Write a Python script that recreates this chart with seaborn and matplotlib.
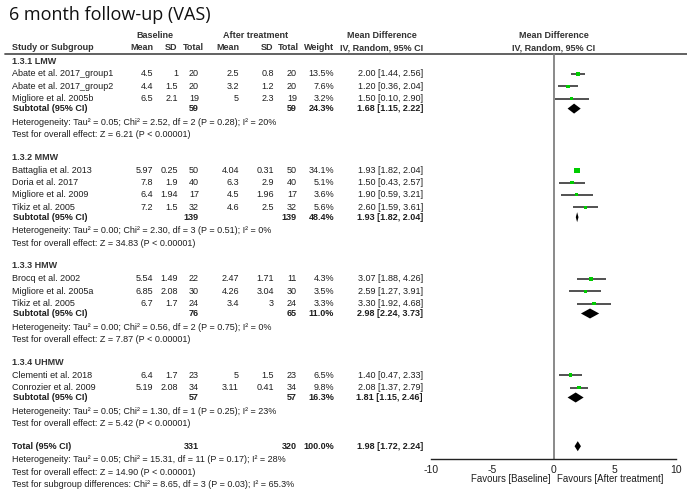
import pandas as pd
import matplotlib.pyplot as plt
import seaborn as sbn
from matplotlib import font_manager

# forest plot: 6 month follow-up (VAS), baseline vs after treatment

groups = ['1.3.1 LMW', '1.3.2 MMW', '1.3.3 HMW', '1.3.4 UHMW']
studies = ['Abate et al. 2017_group1', 'Abate et al. 2017_group2', 'Migliore et al. 2005b',
           'Battaglia et al. 2013', 'Doria et al. 2017', 'Migliore et al. 2009', 'Tikiz et al. 2005',
           'Brocq et al. 2002', 'Migliore et al. 2005a', 'Tikiz et al. 2005',
           'Clementi et al. 2018', 'Conrozier et al. 2009']
study_group = [0, 0, 0, 1, 1, 1, 1, 2, 2, 2, 3, 3]
base_mean = [4.5, 4.4, 6.5, 5.97, 7.8, 6.4, 7.2, 5.54, 6.85, 6.7, 6.4, 5.19]
base_sd = [1, 1.5, 2.1, 0.25, 1.9, 1.94, 1.5, 1.49, 2.08, 1.7, 1.7, 2.08]
base_n = [20, 20, 19, 50, 40, 17, 32, 22, 30, 24, 23, 34]
post_mean = [2.5, 3.2, 5, 4.04, 6.3, 4.5, 4.6, 2.47, 4.26, 3.4, 5, 3.11]
post_sd = [0.8, 1.2, 2.3, 0.31, 2.9, 1.96, 2.5, 1.71, 3.04, 3, 1.5, 0.41]
post_n = [20, 20, 19, 50, 40, 17, 32, 11, 30, 24, 23, 34]
weight = [13.5, 7.6, 3.2, 34.1, 5.1, 3.6, 5.6, 4.3, 3.5, 3.3, 6.5, 9.8]
md = [2.00, 1.20, 1.50, 1.93, 1.50, 1.90, 2.60, 3.07, 2.59, 3.30, 1.40, 2.08]
md_lo = [1.44, 0.36, 0.10, 1.82, 0.43, 0.59, 1.59, 1.88, 1.27, 1.92, 0.47, 1.37]
md_hi = [2.56, 2.04, 2.90, 2.04, 2.57, 3.21, 3.61, 4.26, 3.91, 4.68, 2.33, 2.79]

sub_base_n = [59, 139, 76, 57]
sub_post_n = [59, 139, 65, 57]
sub_weight = [24.3, 48.4, 11.0, 16.3]
sub_md = [1.68, 1.93, 2.98, 1.81]
sub_lo = [1.15, 1.82, 2.24, 1.15]
sub_hi = [2.22, 2.04, 3.73, 2.46]
sub_het = ['Heterogeneity: Tau² = 0.05; Chi² = 2.52, df = 2 (P = 0.28); I² = 20%',
           'Heterogeneity: Tau² = 0.00; Chi² = 2.30, df = 3 (P = 0.51); I² = 0%',
           'Heterogeneity: Tau² = 0.00; Chi² = 0.56, df = 2 (P = 0.75); I² = 0%',
           'Heterogeneity: Tau² = 0.05; Chi² = 1.30, df = 1 (P = 0.25); I² = 23%']
sub_test = ['Test for overall effect: Z = 6.21 (P < 0.00001)',
            'Test for overall effect: Z = 34.83 (P < 0.00001)',
            'Test for overall effect: Z = 7.87 (P < 0.00001)',
            'Test for overall effect: Z = 5.42 (P < 0.00001)']

total_base_n, total_post_n, total_weight = 331, 320, 100.0
total_md, total_lo, total_hi = 1.98, 1.72, 2.24
total_het = 'Heterogeneity: Tau² = 0.05; Chi² = 15.31, df = 11 (P = 0.17); I² = 28%'
total_test = 'Test for overall effect: Z = 14.90 (P < 0.00001)'
subgroup_test = 'Test for subgroup differences: Chi² = 8.65, df = 3 (P = 0.03); I² = 65.3%'

axis_ticks = [-10, -5, 0, 5, 10]
favours = ['Favours [Baseline]', 'Favours [After treatment]']

sbn.set_style('white')
installed = {f.name for f in font_manager.fontManager.ttflist}
if 'Liberation Sans Narrow' in installed:
    FAM, FS = ['Liberation Sans Narrow', 'DejaVu Sans'], 7.7
else:
    FAM, FS = ['Liberation Sans', 'DejaVu Sans'], 6.5
plt.rcParams['font.family'] = FAM
plt.rcParams['axes.unicode_minus'] = False

GREEN = '#00cc00'
TXT = '#1e1e1e'
HC = '#333333'

# row layout (pixel units, top = 0)
study_y, group_y, sub_y, het_y, test_y = [], [], [], [], []
y = 61
for g in range(len(groups)):
    group_y.append(y)
    y += 13
    for i in range(len(studies)):
        if study_group[i] == g:
            study_y.append(y)
            y += 12.3
    y -= 2.3
    sub_y.append(y)
    y += 13.5
    het_y.append(y)
    y += 12.5
    test_y.append(y)
    y += 22.7
total_y = y
axis_y = 459

fig = plt.figure(figsize=(6.87, 4.94), dpi=100)
ax = fig.add_axes([0, 0, 1, 1])
ax.set_xlim(0, 687)
ax.set_ylim(494, 0)
ax.axis('off')

col_x = [153, 178, 199, 239, 274, 297, 334, 423]
head_x = [153, 177, 204, 239, 273, 299, 334]


def txt(x, y, s, ha='left', bold=False, size=FS, color=TXT, **kw):
    ax.text(x, y, s, ha=ha, va='center', fontsize=size, color=color,
            fontweight='bold' if bold else 'normal', **kw)


txt(9, 15, '6 month follow-up (VAS)', size=13, family=['Open Sans', 'DejaVu Sans'], color='#111111')

txt(155, 35, 'Baseline', ha='center', bold=True, color=HC)
txt(256, 35, 'After treatment', ha='center', bold=True, color=HC)
txt(382, 35, 'Mean Difference', ha='center', bold=True, color=HC)
txt(554, 35, 'Mean Difference', ha='center', bold=True, color=HC)
txt(12, 48, 'Study or Subgroup', bold=True, color=HC)
for x, s in zip(head_x, ['Mean', 'SD', 'Total', 'Mean', 'SD', 'Total', 'Weight']):
    txt(x, 48, s, ha='right', bold=True, color=HC)
txt(382, 48, 'IV, Random, 95% CI', ha='center', bold=True, color=HC)
txt(554, 48, 'IV, Random, 95% CI', ha='center', bold=True, color=HC)
ax.plot([5, 687], [54, 54], color='#555555', lw=1.3)

for i, s in enumerate(studies):
    yy = study_y[i]
    txt(12, yy, s)
    vals = ['%g' % base_mean[i], '%g' % base_sd[i], str(base_n[i]),
            '%g' % post_mean[i], '%g' % post_sd[i], str(post_n[i]),
            '%.1f%%' % weight[i],
            '%.2f [%.2f, %.2f]' % (md[i], md_lo[i], md_hi[i])]
    for x, v in zip(col_x, vals):
        txt(x, yy, v, ha='right')

for g, name in enumerate(groups):
    txt(12, group_y[g], name, bold=True, color=HC)
    txt(13, sub_y[g], 'Subtotal (95% CI)', bold=True)
    txt(col_x[2], sub_y[g], str(sub_base_n[g]), ha='right', bold=True)
    txt(col_x[5], sub_y[g], str(sub_post_n[g]), ha='right', bold=True)
    txt(col_x[6], sub_y[g], '%.1f%%' % sub_weight[g], ha='right', bold=True)
    txt(col_x[7], sub_y[g], '%.2f [%.2f, %.2f]' % (sub_md[g], sub_lo[g], sub_hi[g]), ha='right', bold=True)
    txt(12, het_y[g], sub_het[g])
    txt(12, test_y[g], sub_test[g])

txt(12, total_y, 'Total (95% CI)', bold=True)
txt(col_x[2], total_y, str(total_base_n), ha='right', bold=True)
txt(col_x[5], total_y, str(total_post_n), ha='right', bold=True)
txt(col_x[6], total_y, '%.1f%%' % total_weight, ha='right', bold=True)
txt(col_x[7], total_y, '%.2f [%.2f, %.2f]' % (total_md, total_lo, total_hi), ha='right', bold=True)
txt(12, total_y + 13.5, total_het)
txt(12, total_y + 26, total_test)
txt(12, total_y + 38.5, subgroup_test)

# forest panel, same vertical pixel scale as the table
fx = fig.add_axes([431 / 687, 0, 245 / 687, 1])
fx.set_xlim(-10, 10)
fx.set_ylim(494, 0)
fx.patch.set_alpha(0)
for side in ['left', 'right', 'top']:
    fx.spines[side].set_visible(False)
fx.spines['bottom'].set_position(('data', axis_y))
fx.spines['bottom'].set_bounds(-10, 10)
fx.spines['bottom'].set_color('#222222')
fx.spines['bottom'].set_linewidth(1.0)
fx.set_yticks([])
fx.set_xticks(axis_ticks)
fx.set_xticklabels([str(t) for t in axis_ticks], family=['Liberation Sans', 'DejaVu Sans'])
fx.tick_params(axis='x', direction='inout', length=6, width=1, color='#222222',
               labelsize=7.5, labelcolor=TXT, pad=1)

fx.plot([0, 0], [54, axis_y], color='#808080', lw=1.3, zorder=0)

df = pd.DataFrame({'md': md, 'lo': md_lo, 'hi': md_hi, 'y': study_y, 'weight': weight})
fx.hlines(df['y'], df['lo'], df['hi'], color='#222222', lw=1.1, zorder=2)
sbn.scatterplot(data=df, x='md', y='y', size='weight', sizes=(4, 16), size_norm=(0, 34.1),
                marker='s', color=GREEN, linewidth=0, legend=False, ax=fx, zorder=3)
fx.set_xlabel('')
fx.set_ylabel('')
fx.set_ylim(494, 0)

for g in range(len(groups)):
    yy = sub_y[g]
    fx.fill([sub_lo[g], sub_md[g], sub_hi[g], sub_md[g]], [yy, yy - 5, yy, yy + 5],
            color='black', lw=0, zorder=3)
fx.fill([total_lo, total_md, total_hi, total_md], [total_y, total_y - 5, total_y, total_y + 5],
        color='black', lw=0, zorder=3)

fx.text(-0.25, 479, favours[0], ha='right', va='center', fontsize=6.9, color=TXT,
        family=['Liberation Sans', 'DejaVu Sans'])
fx.text(0.25, 479, favours[1], ha='left', va='center', fontsize=6.9, color=TXT,
        family=['Liberation Sans', 'DejaVu Sans'])

fig.savefig('out.png', dpi=100)
